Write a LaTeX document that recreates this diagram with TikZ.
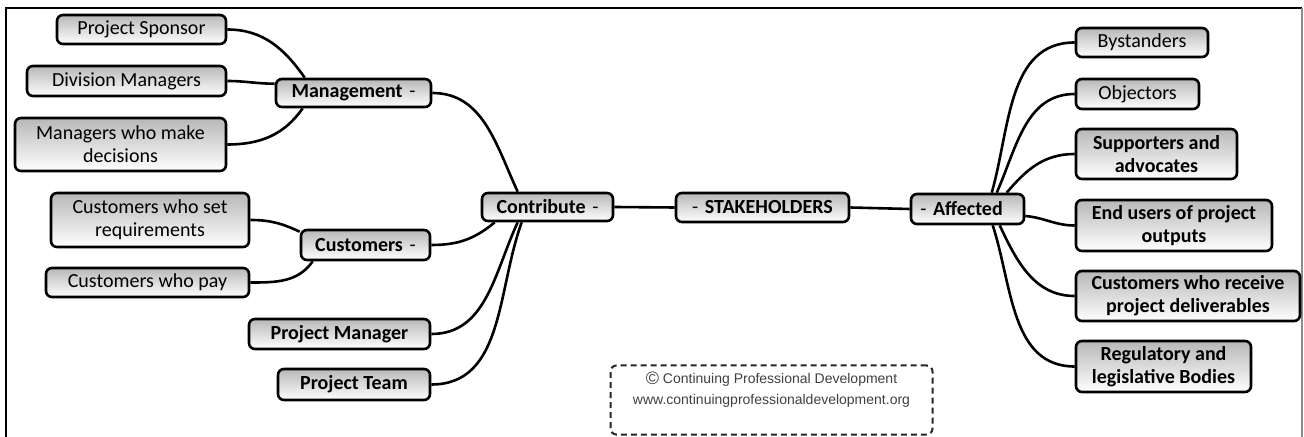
\documentclass[tikz,border=0pt]{standalone}
\usepackage{fontspec}
\setmainfont{Carlito}
\newfontfamily\arialf{Liberation Sans}
\usetikzlibrary{calc}
\tikzset{
  boxbase/.style={draw=black, line width=1.3pt, rounded corners=3pt, top color=black!28, bottom color=white, align=center, inner sep=0pt, font=\fontsize{10}{11.5}\selectfont},
  leafbox/.style={boxbase},
  boldbox/.style={boxbase, font=\bfseries\fontsize{10}{11.5}\selectfont},
  link/.style={line width=1.3pt, draw=black},
  cpdbox/.style={draw=black!85, line width=1pt, dash pattern=on 3pt off 2pt, rounded corners=3pt, minimum width=161pt, minimum height=34.5pt},
  cpdtext/.style={align=center, inner sep=0pt, text=black!75, font=\arialf\fontsize{7}{10.5}\selectfont},
}
\begin{document}
\begin{tikzpicture}[x=0.5pt,y=-0.5pt]
\useasboundingbox (0,0) rectangle (1304,437);
% frame
\draw[line width=1pt] (5,8) -- (1302,8);
\draw[line width=1pt] (6,8) -- (6,437);
\draw[line width=0.6pt, black!45] (1302,8) -- (1302,437);

% left side
\node[leafbox, minimum width=84.5pt, minimum height=14.5pt] (ps) at (141.5,29.5) {Project Sponsor};
\node[leafbox, minimum width=99.5pt, minimum height=15pt] (dm) at (126.5,81) {Division Managers};
\node[leafbox, minimum width=105.5pt, minimum height=26.5pt] (mw) at (120.5,144.5) {Managers who make\\decisions};
\node[boldbox, minimum width=77.5pt, minimum height=14pt] (mg) at (353.5,93) {Management\,\,{\mdseries-}};
\node[leafbox, minimum width=99pt, minimum height=27pt] (cs) at (150,220) {Customers who set\\requirements};
\node[leafbox, minimum width=101.5pt, minimum height=14.5pt] (cp) at (147.5,282.5) {Customers who pay};
\node[boldbox, minimum width=64.5pt, minimum height=15pt] (cu) at (365.5,245) {Customers\,\,{\mdseries-}};
\node[boldbox, minimum width=90.5pt, minimum height=15pt] (pm) at (339.5,334) {Project Manager};
\node[boldbox, minimum width=76pt, minimum height=15.5pt] (pt) at (354,384.5) {Project Team};
\node[boldbox, minimum width=65.5pt, minimum height=14pt] (co) at (547.5,207) {Contribute\,\,{\mdseries-}};

% centre
\node[boldbox, minimum width=86.5pt, minimum height=14.5pt] (st) at (762.5,207.5) {{\mdseries-}\,\,STAKEHOLDERS};

% right side
\node[boldbox, minimum width=56.5pt, minimum height=15pt] (af) at (967.5,209) {{\mdseries-}\,\,Affected\hspace{6pt}};
\node[leafbox, minimum width=66pt, minimum height=14.5pt] (by) at (1142,42.5) {Bystanders};
\node[leafbox, minimum width=61.5pt, minimum height=15pt] (ob) at (1137.5,94) {Objectors};
\node[boldbox, minimum width=80.5pt, minimum height=25pt] (su) at (1156.5,154) {Supporters and\\advocates};
\node[boldbox, minimum width=98pt, minimum height=25.5pt] (eu) at (1174,225.5) {End users of project\\outputs};
\node[boldbox, minimum width=112pt, minimum height=25pt] (cr) at (1188,296) {Customers who receive\\project deliverables};
\node[boldbox, minimum width=87.5pt, minimum height=25.5pt] (rg) at (1163.5,366.5) {Regulatory and\\legislative Bodies};

% copyright box
\node[cpdbox] (cpd) at (771.5,400) {};
\node[cpdtext] (cpdt) at (771.5,389.5) {\raisebox{-0.2ex}{\fontsize{9}{10}\selectfont\textcopyright}\ Continuing Professional Development\\www.continuingprofessionaldevelopment.org};

% connectors left
\draw[link] (ps.east) to[out=0,in=125] ($(mg.north west)+(30,0)$);
\draw[link] (dm.east) to[out=0,in=180] ($(mg.north west)+(0,6)$);
\draw[link] (mw.east) to[out=0,in=235] ($(mg.south west)+(28,0)$);
\draw[link] (mg.east) to[out=0,in=115] ($(co.north west)+(37,0)$);
\draw[link] (cs.east) to[out=0,in=155] ($(cu.north west)+(0,3)$);
\draw[link] (cp.east) to[out=0,in=235] ($(cu.south west)+(13,0)$);
\draw[link] (cu.east) to[out=0,in=220] ($(co.south west)+(14,0)$);
\draw[link] (pm.east) to[out=0,in=245] ($(co.south west)+(37,0)$);
\draw[link] (pt.east) to[out=0,in=250] ($(co.south west)+(41,0)$);
% centre
\draw[link] (co.east) -- (st.west);
\draw[link] (st.east) -- (af.west);
% right
\draw[link] ($(af.north west)+(82,0)$) to[out=74,in=180] (by.west);
\draw[link] ($(af.north west)+(87,0)$) to[out=66,in=180] (ob.west);
\draw[link] ($(af.north west)+(97,0)$) to[out=50,in=180] (su.west);
\draw[link] ($(af.east)+(0,7)$) to[out=-5,in=180] (eu.west);
\draw[link] ($(af.south west)+(90,0)$) to[out=-65,in=180] (cr.west);
\draw[link] ($(af.south west)+(83,0)$) to[out=-72,in=180] (rg.west);
\end{tikzpicture}
\end{document}
